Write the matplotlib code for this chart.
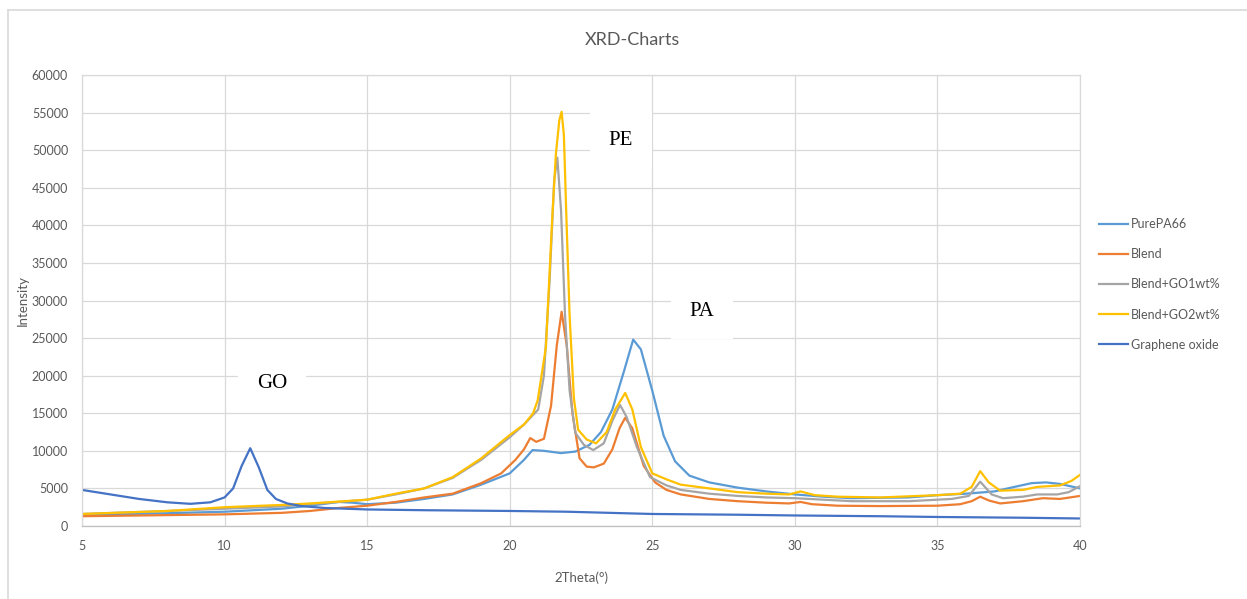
import matplotlib
matplotlib.use("Agg")
import matplotlib.pyplot as plt
from matplotlib.lines import Line2D

plt.rcParams['font.family'] = ['Lato', 'DejaVu Sans']

# ---------------- data ----------------
go_x = [5, 6, 7, 8, 8.8, 9.5, 10, 10.3, 10.6, 10.9, 11.2, 11.5, 11.8, 12.2, 12.7, 13.5,
        15, 17, 20, 22, 25, 28, 30, 33, 35, 38, 40]
go_y = [4800, 4200, 3600, 3150, 2950, 3150, 3800, 5000, 8000, 10350, 7800, 4800, 3600,
        3000, 2650, 2400, 2200, 2100, 2000, 1900, 1600, 1500, 1400, 1300, 1200, 1100, 1000]

pa66_x = [5, 8, 10, 12, 13, 14, 14.5, 15, 16, 17, 18, 19, 20, 20.5, 20.8, 21.2, 21.8,
          22.3, 22.8, 23.2, 23.6, 24.0, 24.33, 24.6, 25.0, 25.4, 25.8, 26.3, 27, 28, 29,
          30, 31, 32, 34, 35, 36, 37, 37.7, 38.3, 38.8, 39.3, 40]
pa66_y = [1500, 1700, 1900, 2300, 2700, 3200, 3100, 2900, 3100, 3600, 4200, 5500, 7000,
          8800, 10100, 10000, 9700, 9900, 10800, 12500, 15500, 20500, 24800, 23500, 18000,
          12000, 8600, 6700, 5800, 5100, 4600, 4200, 3900, 3700, 3800, 4100, 4300, 4600,
          5200, 5700, 5800, 5600, 5000]

blend_x = [5, 8, 10, 12, 13, 14, 15, 16, 17, 18, 19, 19.7, 20.2, 20.5, 20.72, 20.93, 21.2,
           21.45, 21.65, 21.82, 22.0, 22.2, 22.45, 22.7, 22.95, 23.3, 23.6, 23.85, 24.05,
           24.3, 24.7, 25.1, 25.5, 26, 27, 28, 29, 29.8, 30.2, 30.6, 31.5, 33, 35, 35.8,
           36.2, 36.5, 36.8, 37.2, 38, 38.7, 39.3, 40]
blend_y = [1300, 1450, 1550, 1750, 2000, 2400, 2700, 3200, 3800, 4300, 5700, 7000, 8800,
           10200, 11700, 11200, 11600, 16000, 24000, 28500, 24000, 15000, 9000, 7900, 7800,
           8300, 10200, 13000, 14400, 13000, 8000, 5800, 4800, 4200, 3600, 3300, 3100, 3000,
           3200, 2900, 2700, 2650, 2700, 2900, 3300, 3900, 3400, 3000, 3300, 3700, 3600, 4000]

go1_x = [5, 8, 10, 12, 13, 14, 15, 16, 17, 18, 19, 20, 20.5, 21.0, 21.2, 21.4, 21.56,
         21.67, 21.8, 21.94, 22.1, 22.3, 22.6, 22.93, 23.3, 23.6, 23.87, 24.1, 24.46, 24.92,
         25.5, 26, 27, 28, 29, 30, 31, 32, 34, 35.5, 36.1, 36.5, 36.9, 37.3, 38, 38.5,
         39.2, 39.6, 40]
go1_y = [1600, 2000, 2300, 2600, 2900, 3200, 3500, 4200, 5000, 6400, 8800, 11800, 13500,
         15500, 20000, 32700, 46000, 49000, 42000, 28000, 18000, 12400, 10800, 10100, 11000,
         14000, 16100, 14500, 10500, 6500, 5400, 4800, 4300, 4000, 3800, 3700, 3500, 3300,
         3300, 3600, 4000, 5900, 4200, 3700, 3900, 4200, 4200, 4500, 5300]

go2_x = [5, 8, 10, 12, 13, 14, 15, 16, 17, 18, 19, 20, 20.5, 20.82, 20.98, 21.27, 21.5,
         21.62, 21.74, 21.82, 21.9, 21.98, 22.1, 22.25, 22.4, 22.7, 23.03, 23.4, 23.7,
         24.05, 24.3, 24.6, 25.0, 25.5, 26, 27, 28, 29, 29.8, 30.2, 30.7, 31.5, 33, 35,
         35.8, 36.2, 36.5, 36.8, 37.2, 38, 38.5, 39.3, 39.7, 40]
go2_y = [1600, 2000, 2500, 2800, 3000, 3250, 3500, 4300, 5000, 6500, 9000, 12100, 13500,
         15000, 16700, 23800, 41600, 49500, 54000, 55100, 52000, 42000, 28000, 17000, 12800,
         11500, 11000, 12500, 15500, 17700, 15500, 10500, 7000, 6200, 5500, 5000, 4500,
         4300, 4200, 4600, 4100, 3900, 3800, 4100, 4300, 5200, 7300, 5800, 4700, 4800,
         5200, 5400, 6000, 6800]

series = [
    ("PurePA66", pa66_x, pa66_y, "#5B9BD5"),
    ("Blend", blend_x, blend_y, "#ED7D31"),
    ("Blend+GO1wt%", go1_x, go1_y, "#A5A5A5"),
    ("Blend+GO2wt%", go2_x, go2_y, "#FFC000"),
    ("Graphene oxide", go_x, go_y, "#4472C4"),
]

x_ticks = [5, 10, 15, 20, 25, 30, 35, 40]
y_ticks = list(range(0, 60001, 5000))

annotations = [("GO", 11.66, 18900), ("PE", 23.9, 51350), ("PA", 26.75, 28600)]

# ---------------- figure ----------------
W, H = 1247, 599
fig = plt.figure(figsize=(W / 100, H / 100), dpi=100)
ax = fig.add_axes([82 / W, 1 - 526 / H, (1080 - 82) / W, (526 - 75) / H])

for name, xs, ys, c in series:
    ax.plot(xs, ys, color=c, lw=1.6, label=name, solid_joinstyle='round')

ax.set_xlim(5, 40)
ax.set_ylim(0, 60000)
ax.set_xticks(x_ticks)
ax.set_yticks(y_ticks)
ax.set_xticklabels([str(v) for v in x_ticks])
ax.set_yticklabels([str(v) for v in y_ticks])
ax.grid(True, color="#D9D9D9", lw=0.9)
ax.set_axisbelow(True)
for s in ax.spines.values():
    s.set_color("#D9D9D9")
    s.set_linewidth(0.9)
ax.spines['bottom'].set_color("#BFBFBF")
ax.tick_params(length=0, colors="#595959", labelsize=9, pad=10)

ax.set_xlabel("2Theta(°)", color="#595959", fontsize=9.5, labelpad=14)
ax.set_ylabel("Intensity", color="#595959", fontsize=9.5, labelpad=2)

for txt, xv, yv in annotations:
    ax.text(xv, yv, txt, ha="center", va="center", fontsize=15,
            family=["Liberation Serif", "DejaVu Serif"], color="black",
            bbox=dict(boxstyle="square,pad=0.9", fc="white", ec="none"), zorder=5)

fig.text(632 / W, 1 - 40 / H, "XRD-Charts", ha="center", va="center",
         fontsize=13, color="#595959")

handles, labels = ax.get_legend_handles_labels()
leg = fig.legend(handles, labels, loc="upper left",
                 bbox_to_anchor=(1088 / W, 1 - 207 / H), frameon=False,
                 fontsize=9, labelcolor="#595959", handlelength=2.3,
                 handletextpad=0.25, labelspacing=1.45)

# outer chart border
fig.add_artist(Line2D([8 / W, 1], [1 - 10 / H, 1 - 10 / H], color="#D9D9D9", lw=1.2))
fig.add_artist(Line2D([8 / W, 8 / W], [0, 1 - 10 / H], color="#D9D9D9", lw=1.2))

fig.savefig("out.png", dpi=100, facecolor="white")
